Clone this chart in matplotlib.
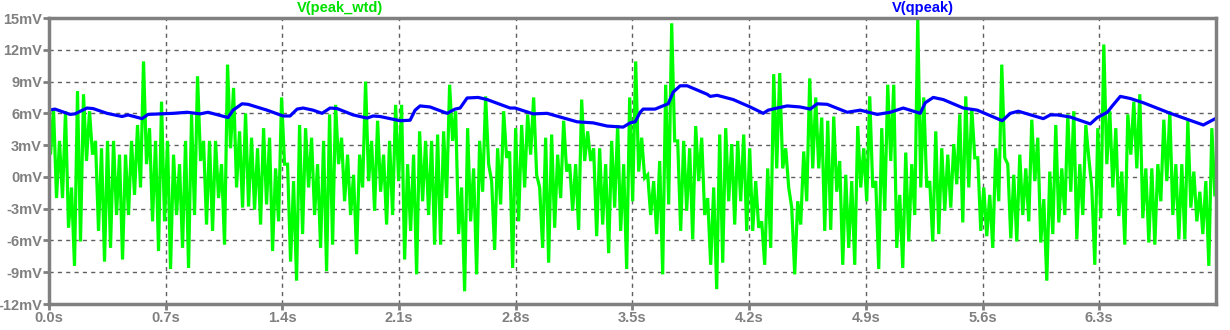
import numpy as np
import matplotlib
matplotlib.use('Agg')
import matplotlib.pyplot as plt

# V(qpeak): 時刻[s] と 電圧[mV]
qpeak_t = [0.0, 0.036, 0.126, 0.156, 0.228, 0.264, 0.348, 0.438, 0.474, 0.558,
           0.594, 0.744, 0.828, 0.906, 0.954, 1.074, 1.104, 1.158, 1.194, 1.308,
           1.404, 1.446, 1.488, 1.524, 1.584, 1.638, 1.686, 1.728, 1.824, 1.908,
           1.944, 1.986, 2.106, 2.166, 2.196, 2.226, 2.286, 2.388, 2.436, 2.466,
           2.508, 2.574, 2.628, 2.766, 2.796, 2.904, 2.988, 3.168, 3.264, 3.348,
           3.444, 3.486, 3.516, 3.546, 3.564, 3.636, 3.666, 3.714, 3.744, 3.786,
           3.828, 3.948, 3.966, 4.008, 4.104, 4.206, 4.284, 4.314, 4.368, 4.428,
           4.506, 4.566, 4.608, 4.668, 4.788, 4.866, 4.968, 5.046, 5.124, 5.226,
           5.256, 5.304, 5.364, 5.484, 5.568, 5.718, 5.766, 5.814, 5.964, 6.006,
           6.048, 6.126, 6.246, 6.288, 6.348, 6.378, 6.426, 6.486, 6.564, 6.726,
           6.924, 6.996]
qpeak_mv = [6.3, 6.4, 5.9, 5.95, 6.5, 6.45, 6.0, 5.7, 5.85, 5.5,
            5.9, 6.0, 6.1, 5.95, 6.1, 5.6, 6.3, 6.9, 6.85, 6.3,
            5.75, 5.75, 6.4, 6.5, 6.3, 6.0, 6.5, 6.45, 5.85, 5.55,
            5.75, 5.7, 5.3, 5.35, 6.3, 6.7, 6.6, 6.0, 6.4, 6.5,
            7.45, 7.5, 7.3, 6.5, 6.5, 5.95, 6.0, 5.2, 5.1, 4.8,
            4.7, 5.1, 5.2, 6.1, 6.4, 6.4, 6.6, 6.9, 8.0, 8.6,
            8.6, 7.8, 7.6, 7.7, 7.3, 6.6, 6.0, 6.3, 6.5, 6.7,
            6.6, 6.4, 6.9, 6.85, 6.1, 6.3, 5.9, 6.1, 6.5, 6.0,
            7.0, 7.5, 7.3, 6.5, 6.3, 5.3, 6.0, 6.2, 5.5, 5.85,
            5.85, 5.65, 5.0, 5.6, 6.1, 6.7, 7.6, 7.4, 7.0, 6.0,
            4.9, 5.5]

# V(peak_wtd): 0.036s ごとの 上側/下側の振れ [mV]
step = 0.036
peak_hi = [
    7.8, 6.5, 3.4, 6.2, -1.0, 8.1, 7.8, 6.2, 3.4, 2.7,
    3.4, 3.4, 2.1, 2.1, 3.4, 4.9, 10.9, 4.6, 3.4, 7.1,
    3.4, 2.1, 1.2, 3.4, 5.9, 9.5, 3.4, 3.4, 3.4, 1.2,
    10.6, 8.4, 4.3,
    6.0, 3.7, 2.7, 4.6, 3.7, 0.8, 7.5, 1.2, -0.4, 4.9,
    4.6, 3.7, 1.2, 3.4, 5.9, 6.8, 3.7, 2.1, 0.2, 2.1,
    9.0, 3.4, 5.3, 2.1, 3.4, 6.8, 6.8, 1.2, 2.1, 4.3,
    3.4, 3.4,
    4.0, 4.3, 8.7, 6.2, -1.0, 4.6, 0.8, 3.4, 7.6, -0.4,
    2.7, 6.2, 2.4, 4.6, 4.9, 5.9, 7.5, -1.0, 3.7, 4.0,
    2.1, 5.3, 1.2, 1.2, 7.3, 4.3, 2.7, 2.7, 1.2, 3.4,
    4.9, 1.2, 7.5,
    10.9, 3.7, 0.2, -0.4, 1.5, 8.7, 14.5, 3.4, 3.4, 2.7,
    4.8, 3.7, -2.0, -1.0, 4.0, 4.6, 3.1, 3.4, 4.0, 2.7,
    -0.4, -4.2, 0.8, 9.7, 9.8, 2.7, -2.9, -2.3, 2.4, 9.3,
    7.5, 5.6,
    5.3, 5.7, 1.5, 0.2, -0.4, 4.8, 2.7, 7.6, -0.4, 4.6,
    8.7, 8.7, -1.7, 2.3, 1.2, 15.0, 7.5, -0.4, 4.3, 2.7,
    2.1, 3.1, 5.9, 7.6, 6.5, 1.8, -1.0, -1.7, 2.7, 10.6,
    1.2, 0.2, 2.1,
    0.8, 5.4, 3.7, -2.1, 0.5, 4.9, 0.8, 5.9, 6.2, 1.2,
    4.9, -1.0, 4.6, 12.5, 6.2, 4.6, 0.5, 5.9, 7.1, 7.8,
    0.8, 0.8, 1.2, 5.4, 6.2, 1.2, 1.2, 5.3, 0.5, -1.4,
    -0.4, 4.6,
]
peak_lo = [
    2.1, -2.0, -2.0, -4.8, -8.4, -6.1, 1.5, 2.1, -5.1, -8.0,
    -6.7, -3.6, -7.8, -3.6, -1.7, -1.0, 1.2, -4.2, -7.0, -4.2,
    -8.7, -3.6, -6.7, -8.6, -3.6, 1.5, -4.5, -5.1, -2.0, -6.4,
    2.7, -1.0, -2.9,
    -2.8, -3.1, -4.5, -2.6, -7.0, -4.2, 1.2, -8.0, -9.8, -5.4,
    -1.0, -3.6, -6.7, -8.9, -6.4, 1.2, -2.3, -3.6, -7.3, -1.0,
    -0.4, -3.2, -1.4, -4.5, -3.6, -0.4, -7.8, -5.1, -9.2, -2.3,
    -3.6, -6.4,
    -6.4, -2.0, 3.4, -5.4, -10.8, -4.2, -9.2, -1.4, 1.2, -6.9,
    -2.6, 1.8, -8.6, -4.2, -1.0, 2.1, 0.2, -6.7, -8.1, -4.8,
    -2.0, 0.5, -3.2, -5.0, 1.5, 1.5, -5.6, -4.5, -7.2, -2.9,
    -5.1, -8.7, -2.3,
    0.5, -0.1, -3.6, -5.4, -9.2, -2.6, 3.4, -5.1, -3.2, -5.9,
    -0.4, -3.6, -8.3, -10.6, -8.1, -2.3, -4.5, -2.3, -5.1, -5.1,
    -4.8, -8.3, -6.7, 0.8, 0.8, -1.0, -9.2, -4.5, -2.3, 0.8,
    0.8, -5.1,
    -5.0, -1.4, -8.3, -6.7, -8.3, -1.0, -2.3, -1.0, -8.7, -3.2,
    1.5, -6.7, -8.6, -6.1, -3.6, -1.0, -1.0, -6.1, -5.4, -3.2,
    -2.9, -0.7, -4.3, -1.0, 1.8, -5.1, -5.6, -6.7, -2.3, 1.8,
    -5.8, -6.1, -3.6,
    -4.2, -0.4, -6.2, -9.8, -5.4, -4.3, -3.6, -1.4, -5.9, -3.6,
    1.8, -8.3, -3.9, 1.2, -1.0, -3.7, -6.4, 2.1, 0.8, -3.9,
    -6.2, -6.4, -2.3, -0.4, -3.6, -5.9, -5.9, -2.9, -4.2, -5.4,
    -8.4, -1.7,
]

t_pair = np.arange(len(peak_hi)) * step
peak_t = np.column_stack([t_pair - step / 4, t_pair + step / 4]).ravel()
peak_mv = np.column_stack([peak_hi, peak_lo]).ravel()

x_ticks = [0.0, 0.7, 1.4, 2.1, 2.8, 3.5, 4.2, 4.9, 5.6, 6.3]
x_labels = ['0.0s', '0.7s', '1.4s', '2.1s', '2.8s', '3.5s', '4.2s', '4.9s', '5.6s', '6.3s']
y_ticks = [-12, -9, -6, -3, 0, 3, 6, 9, 12, 15]
y_labels = [f'{v}mV' for v in y_ticks]

gray = '#808080'
fig = plt.figure(figsize=(12.3, 3.3), dpi=100)
ax = fig.add_axes([49 / 1230, 1 - 304 / 330, 1167 / 1230, 286 / 330])

ax.plot(peak_t, peak_mv, color='#00ff00', lw=2.3, solid_joinstyle='miter')
ax.plot(qpeak_t, qpeak_mv, color='#0000ff', lw=2.3)

ax.set_xlim(0, 7.0)
ax.set_ylim(-12, 15)
ax.set_xticks(x_ticks)
ax.set_xticklabels(x_labels)
ax.set_yticks(y_ticks)
ax.set_yticklabels(y_labels)
ax.grid(True, color='#606060', ls=(0, (3, 3)), lw=1.0)
ax.set_axisbelow(True)
for s in ax.spines.values():
    s.set_color(gray)
    s.set_linewidth(2.5)
ax.tick_params(colors=gray, width=2, length=4, labelsize=10.5, pad=1)
for lab in ax.get_xticklabels() + ax.get_yticklabels():
    lab.set_fontfamily('Liberation Sans')
    lab.set_fontweight('bold')
    lab.set_color(gray)

fig.text(340 / 1230, 1 - 8 / 330, 'V(peak_wtd)', color='#00e000', ha='center', va='center',
         fontsize=10.5, fontweight='bold', family='Liberation Sans')
fig.text(923 / 1230, 1 - 8 / 330, 'V(qpeak)', color='#0000ff', ha='center', va='center',
         fontsize=10.5, fontweight='bold', family='Liberation Sans')

fig.savefig('out.png', dpi=100)
